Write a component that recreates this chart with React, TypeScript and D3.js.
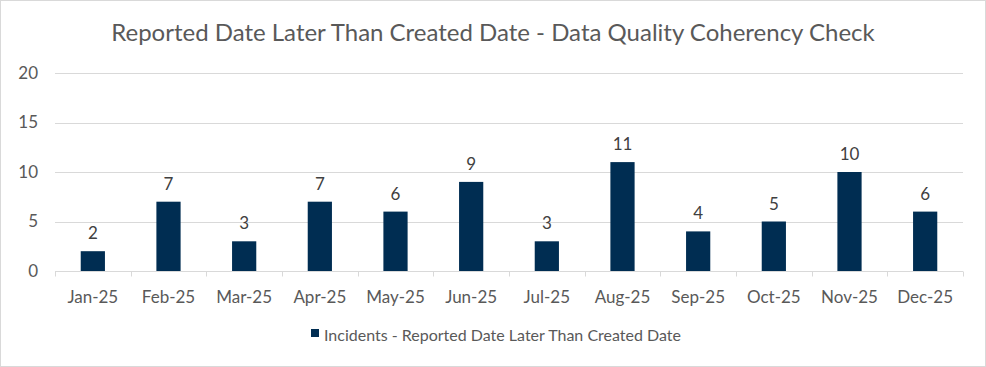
import React, { useEffect, useRef } from 'react';
import * as d3 from 'd3';

const months = ['Jan-25', 'Feb-25', 'Mar-25', 'Apr-25', 'May-25', 'Jun-25', 'Jul-25', 'Aug-25', 'Sep-25', 'Oct-25', 'Nov-25', 'Dec-25'];
const incidents = [2, 7, 3, 7, 6, 9, 3, 11, 4, 5, 10, 6];
const yTicks = [0, 5, 10, 15, 20];
const seriesName = 'Incidents - Reported Date Later Than Created Date';
const chartTitle = 'Reported Date Later Than Created Date - Data Quality Coherency Check';

const W = 986;
const H = 367;
const FONT = 'Lato, "Open Sans", sans-serif';

const App = () => {
  const ref = useRef<SVGSVGElement | null>(null);

  useEffect(() => {
    if (!ref.current) return;
    const svg = d3.select(ref.current);
    svg.selectAll('*').remove();

    const margin = { top: 73, right: 23, bottom: 96, left: 55 };
    const width = W - margin.left - margin.right;
    const height = H - margin.top - margin.bottom;

    // outer frame
    svg
      .append('rect')
      .attr('x', 0.5)
      .attr('y', 0.5)
      .attr('width', W - 1)
      .attr('height', H - 1)
      .attr('fill', '#ffffff')
      .attr('stroke', '#d9d9d9');

    svg
      .append('text')
      .attr('x', W / 2)
      .attr('y', 41)
      .attr('text-anchor', 'middle')
      .style('font-family', FONT)
      .style('font-size', '24px')
      .style('fill', '#595959')
      .text(chartTitle);

    const g = svg.append('g').attr('transform', `translate(${margin.left},${margin.top})`);

    const x = d3.scaleBand().domain(months).range([0, width]).paddingInner(0.68).paddingOuter(0.34);
    const y = d3.scaleLinear().domain([0, 20]).range([height, 0]);

    // gridlines
    g.append('g')
      .selectAll('line')
      .data(yTicks.filter((t) => t > 0))
      .join('line')
      .attr('x1', 0)
      .attr('x2', width)
      .attr('y1', (d) => Math.round(y(d)) + 0.5)
      .attr('y2', (d) => Math.round(y(d)) + 0.5)
      .attr('stroke', '#d9d9d9')
      .attr('stroke-width', 1);

    // y axis labels
    g.append('g')
      .selectAll('text')
      .data(yTicks)
      .join('text')
      .attr('x', -17)
      .attr('y', (d) => y(d))
      .attr('dy', '0.35em')
      .attr('text-anchor', 'end')
      .style('font-family', FONT)
      .style('font-size', '17px')
      .style('fill', '#595959')
      .text((d) => d);

    // bars
    g.append('g')
      .selectAll('rect')
      .data(incidents)
      .join('rect')
      .attr('x', (d, i) => x(months[i]) as number)
      .attr('y', (d) => y(d))
      .attr('width', x.bandwidth())
      .attr('height', (d) => height - y(d))
      .attr('fill', '#002d52');

    // data labels
    g.append('g')
      .selectAll('text')
      .data(incidents)
      .join('text')
      .attr('x', (d, i) => (x(months[i]) as number) + x.bandwidth() / 2)
      .attr('y', (d) => y(d) - 12)
      .attr('text-anchor', 'middle')
      .style('font-family', FONT)
      .style('font-size', '17px')
      .style('fill', '#404040')
      .text((d) => d);

    // x axis line + ticks at band edges
    const step = x.step();
    const axis = g.append('g').attr('transform', `translate(0,${Math.round(height) + 0.5})`);
    axis
      .append('line')
      .attr('x1', 0)
      .attr('x2', width)
      .attr('stroke', '#d9d9d9');
    axis
      .selectAll('line.tick')
      .data(d3.range(months.length + 1))
      .join('line')
      .attr('class', 'tick')
      .attr('x1', (i) => Math.round(i * step) + 0.5)
      .attr('x2', (i) => Math.round(i * step) + 0.5)
      .attr('y1', 0)
      .attr('y2', 5)
      .attr('stroke', '#d9d9d9');
    axis
      .selectAll('text')
      .data(months)
      .join('text')
      .attr('x', (d) => (x(d) as number) + x.bandwidth() / 2)
      .attr('y', 31)
      .attr('text-anchor', 'middle')
      .style('font-family', FONT)
      .style('font-size', '17px')
      .style('fill', '#595959')
      .text((d) => d);

    // legend
    const legend = svg.append('g').attr('transform', 'translate(311,329)');
    legend.append('rect').attr('width', 8).attr('height', 8).attr('fill', '#002d52');
    legend
      .append('text')
      .attr('x', 13)
      .attr('y', 12)
      .style('font-family', FONT)
      .style('font-size', '16px')
      .style('fill', '#595959')
      .text(seriesName);
  }, []);

  return <svg ref={ref} width={W} height={H} style={{ position: 'absolute', left: 0, top: 0 }} />;
};

export default App;
